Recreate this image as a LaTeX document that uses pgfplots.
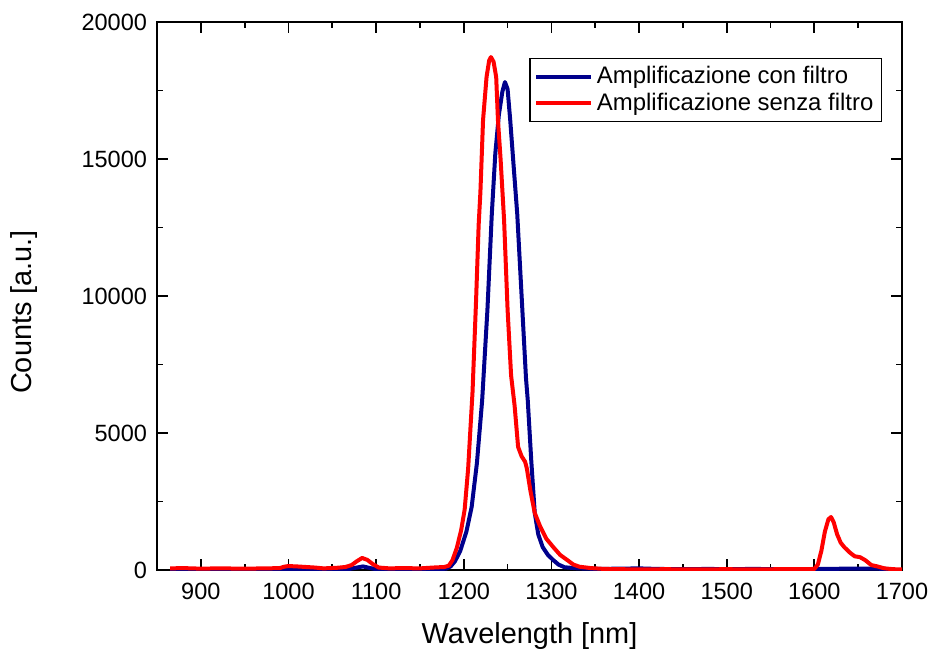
\documentclass[border=0pt]{standalone}
\usepackage{pgfplots}
\pgfplotsset{compat=1.18}
\usepackage{fontspec}
\setmainfont{Liberation Sans}
\definecolor{navyb}{RGB}{0,0,140}
\definecolor{redl}{RGB}{255,0,0}
\begin{document}
\begin{tikzpicture}
\begin{axis}[name=ax,
  scale only axis, width=372.5bp, height=274bp,
  xmin=850, xmax=1700, ymin=0, ymax=20000,
  xtick={900,1000,...,1700}, minor x tick num=1,
  ytick={0,5000,10000,15000,20000}, minor y tick num=1,
  scaled y ticks=false,
  /pgf/number format/assume math mode=true,
  /pgf/number format/1000 sep={},
  tick label style={font=\fontsize{11.8}{13}\selectfont},
  tick align=inside, major tick length=5.5bp, minor tick length=3bp,
  every tick/.style={black, line width=0.9bp},
  axis line style={line width=1bp},
  xticklabel style={yshift=-3bp},
  yticklabel style={xshift=-1.5bp},
  xlabel={Wavelength [nm]}, ylabel={Counts [a.u.]},
  label style={font=\fontsize{14.5}{16}\selectfont},
  xlabel style={at={(0.5,0)}, anchor=center, yshift=-33bp},
  ylabel style={at={(0,0.5)}, anchor=center, rotate=0, yshift=66.5bp, xshift=-8bp},
  legend style={at={(1,1)}, anchor=north east, xshift=-10bp, yshift=-18bp,
    draw=black, line width=0.6bp, inner sep=2bp, row sep=-1bp,
    font=\fontsize{12}{14}\selectfont},
  legend cell align=left,
  legend image code/.code={\draw[#1] (0bp,0bp) -- (27.5bp,0bp);},
]
\addplot[navyb, line width=2bp, line join=round] table {
x y
865 30
880 40
900 20
920 35
950 10
975 30
1000 20
1020 40
1050 15
1070 40
1078 90
1085 130
1092 80
1100 30
1125 20
1150 25
1170 30
1180 50
1185 130
1190 320
1196 700
1203 1400
1209 2300
1215 3900
1221 6200
1227 9500
1232 13000
1236 15200
1240 16600
1244 17450
1247 17810
1250 17550
1253 16420
1257 14700
1261 13000
1266 10000
1271 7000
1273 6200
1277 4000
1281 2080
1285 1300
1290 840
1296 550
1302 365
1308 200
1315 100
1330 60
1350 40
1380 50
1400 60
1420 40
1450 30
1480 40
1500 30
1530 40
1560 30
1590 30
1610 40
1640 50
1670 50
1690 30
};
\addlegendentry{Amplificazione con filtro}
\addplot[redl, line width=2bp, line join=round] table {
x y
865 60
880 70
900 50
920 60
950 50
975 60
990 70
995 120
1000 145
1010 130
1020 110
1030 90
1040 60
1055 80
1065 110
1072 180
1078 320
1084 440
1090 370
1096 220
1103 90
1115 60
1130 70
1150 60
1165 90
1178 110
1183 160
1187 350
1192 800
1197 1450
1201 2200
1205 3700
1210 6500
1214 9800
1217 12600
1219 13800
1222 16420
1226 17990
1229 18600
1231 18720
1234 18550
1237 17990
1239 16420
1242 15000
1246 12774
1250 9500
1254 7100
1258 6000
1262 4490
1266 4150
1270 3950
1272 3700
1276 2900
1281 2080
1287 1600
1294 1150
1302 840
1310 550
1318 365
1325 200
1332 120
1345 70
1360 40
1380 30
1400 20
1430 30
1460 20
1500 30
1530 20
1560 30
1590 30
1600 40
1604 200
1608 700
1612 1400
1616 1850
1619 1934
1622 1750
1626 1300
1630 1000
1634 840
1640 650
1646 500
1652 470
1658 360
1665 180
1672 130
1680 60
1690 30
1700 20
};
\addlegendentry{Amplificazione senza filtro}
\end{axis}
\pgfresetboundingbox
\path ([shift={(-78.5bp,-43bp)}]ax.south west) rectangle ([shift={(15bp,11bp)}]ax.north east);
\end{tikzpicture}
\end{document}
